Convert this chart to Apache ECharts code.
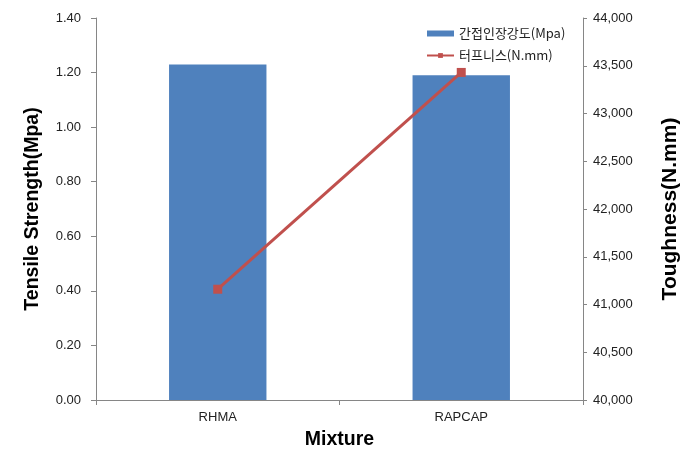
<!DOCTYPE html>
<html><head><meta charset="utf-8">
<script src="https://cdn.jsdelivr.net/npm/echarts@6/dist/echarts.min.js"></script>
<style>html,body{margin:0;padding:0;background:#fff}#c{width:691px;height:464px}</style>
</head><body><div id="c"></div>
<script>
const categories = ['RHMA', 'RAPCAP'];
const tensileStrength = [1.23, 1.19];
const toughness = [41160, 43430];
const leftTicks = {min: 0, max: 1.4, interval: 0.2};
const rightTicks = {min: 40000, max: 44000, interval: 500};
const barName = '간접인장강도(Mpa)';
const lineName = '터프니스(N.mm)';

const chart = echarts.init(document.getElementById('c'));
const axisLineStyle = {show: true, lineStyle: {color: '#868686', width: 1}};
const labelFont = {fontFamily: 'Arial, "Liberation Sans", "Noto Sans CJK KR"', fontSize: 13, color: '#222'};
const titleFont = {fontFamily: 'Arial, "Liberation Sans"', fontSize: 19.5, fontWeight: 'bold', color: '#000'};
chart.setOption({
  animation: false,
  backgroundColor: '#fff',
  grid: {left: 96, right: 108, top: 18, bottom: 64},
  legend: {
    orient: 'vertical', left: 421, top: 22, itemGap: 9,
    itemWidth: 27, itemHeight: 6,
    textStyle: {fontFamily: '"Noto Sans CJK KR", Arial', fontSize: 13, color: '#222'},
    data: [
      {name: barName, icon: 'rect'},
      {name: lineName}
    ]
  },
  xAxis: {
    type: 'category', data: categories, boundaryGap: true,
    name: 'Mixture', nameLocation: 'middle', nameGap: 30,
    nameTextStyle: titleFont,
    axisLine: axisLineStyle,
    axisTick: {show: true, alignWithLabel: false, length: 5, lineStyle: {color: '#868686'}},
    axisLabel: Object.assign({margin: 11}, labelFont)
  },
  yAxis: [
    {
      type: 'value', min: leftTicks.min, max: leftTicks.max, interval: leftTicks.interval,
      name: 'Tensile Strength(Mpa)', nameLocation: 'middle', nameGap: 53, nameRotate: 90,
      nameTextStyle: titleFont,
      axisLine: axisLineStyle,
      axisTick: {show: true, length: 5, lineStyle: {color: '#868686'}},
      splitLine: {show: false},
      axisLabel: Object.assign({margin: 15, formatter: v => v.toFixed(2)}, labelFont)
    },
    {
      type: 'value', position: 'right', min: rightTicks.min, max: rightTicks.max, interval: rightTicks.interval,
      name: 'Toughness(N.mm)', nameLocation: 'middle', nameGap: 77, nameRotate: 90,
      nameTextStyle: Object.assign({}, titleFont, {fontSize: 21}),
      axisLine: axisLineStyle,
      axisTick: {show: true, length: 4, lineStyle: {color: '#868686'}},
      splitLine: {show: false},
      axisLabel: Object.assign({margin: 10, formatter: v => v.toLocaleString('en-US')}, labelFont)
    }
  ],
  series: [
    {
      name: barName, type: 'bar', yAxisIndex: 0, data: tensileStrength,
      barWidth: '40%', itemStyle: {color: '#4F81BD'}
    },
    {
      name: lineName, type: 'line', yAxisIndex: 1, data: toughness,
      symbol: 'rect', symbolSize: 9,
      lineStyle: {color: '#C0504D', width: 3},
      itemStyle: {color: '#C0504D'}
    }
  ]
});
</script></body></html>
